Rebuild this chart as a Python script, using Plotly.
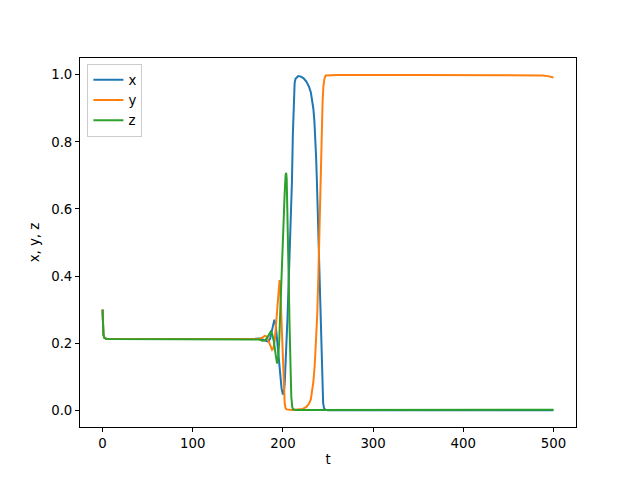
import plotly.graph_objects as go

# ---- data ----
t_x = [0, 0.5, 1, 2, 4, 8, 50, 100, 150, 165, 170, 173, 176, 179, 182, 184, 186, 188, 189.5, 190.5,
       192, 193.5, 195.4, 197, 198.5, 200, 201, 202, 203, 204, 205, 206, 207, 208, 209, 210, 211, 212,
       213, 214, 215.5, 217, 220, 223, 226, 229, 231, 232.5, 233.8, 234.9, 235.9, 236.8, 237.6, 238.5,
       239.3, 240.3, 241.2, 242, 243, 243.8, 244.6, 245.6, 247, 250, 300, 400, 500]
x_vals = [0.300, 0.240, 0.225, 0.216, 0.2132, 0.2122, 0.2120, 0.2120, 0.2120, 0.2122, 0.2128, 0.2140,
          0.2130, 0.2090, 0.2045, 0.2040, 0.2150, 0.2450, 0.2650, 0.2700,
          0.2550, 0.2100, 0.1490, 0.1000, 0.0650, 0.0470, 0.0520, 0.0800, 0.1300, 0.1950, 0.2700,
          0.3500, 0.4300, 0.5100, 0.5900, 0.6800, 0.8200, 0.9300,
          0.9750, 0.9880, 0.9940, 0.9960, 0.9945, 0.9895, 0.9800, 0.9640, 0.9470, 0.9250, 0.8980,
          0.8620, 0.8150, 0.7550, 0.6900, 0.6050,
          0.5150, 0.4000, 0.2950, 0.2050, 0.1100, 0.0550, 0.0220, 0.0060, 0.0010, 0.0003, 0.0, 0.0, 0.0]

t_y = [0, 0.5, 1, 2, 4, 8, 50, 100, 150, 165, 170, 174, 177, 180, 182, 184, 186, 188, 189.5, 191,
       192.5, 194, 195, 196.3, 197, 198, 199, 200, 201, 202, 203, 204, 210, 218, 222, 226, 229, 231,
       232.5, 233.8, 235.3, 236.8, 238, 239.3, 240.2, 241.2, 242.1, 243, 244, 244.9, 246, 247.5, 260,
       350, 480, 488, 494, 500]
y_vals = [0.300, 0.240, 0.225, 0.216, 0.2132, 0.2122, 0.2120, 0.2120, 0.2120, 0.2122, 0.2130, 0.2125,
          0.2160, 0.2220, 0.2200, 0.2050, 0.1900, 0.1800, 0.1850, 0.2100,
          0.2600, 0.3200, 0.3600, 0.3880, 0.3700, 0.3000, 0.2200, 0.1400, 0.0600, 0.0200, 0.0060,
          0.0025, 0.0010, 0.0020, 0.0040, 0.0100, 0.0200, 0.0330,
          0.0550, 0.0850, 0.1350, 0.2000, 0.2800, 0.4000, 0.5200, 0.6470, 0.7500, 0.8460, 0.9200,
          0.9650, 0.9880, 0.9980, 0.9990,
          0.9990, 0.9990, 0.9980, 0.9960, 0.9920]

t_z = [0, 0.5, 1, 2, 4, 8, 50, 100, 150, 165, 170, 174, 177, 180, 183, 185, 186.5, 188, 190, 192,
       193.5, 194.5, 196, 197, 198, 199, 200, 201, 202, 203, 203.6, 204.2, 204.9, 205.7, 206.5,
       207.3, 208.3, 209.3, 210.3, 211.5, 215, 300, 400, 500]
z_vals = [0.300, 0.240, 0.225, 0.216, 0.2132, 0.2122, 0.2120, 0.2120, 0.2120, 0.2120, 0.2118, 0.2105,
          0.2070, 0.2080, 0.2180, 0.2300, 0.2340, 0.2280, 0.2050, 0.1650,
          0.1400, 0.1450, 0.2100, 0.2900, 0.3700, 0.4500, 0.5200, 0.5900, 0.6500, 0.7000, 0.7080,
          0.6900, 0.6200, 0.5000, 0.3800,
          0.2600, 0.1200, 0.0400, 0.0100, 0.0020, 0.0008, 0.0005, 0.0008, 0.0015]

series_names = ["x", "y", "z"]
colors = ["#1f77b4", "#ff7f0e", "#2ca02c"]

x_ticks = [0, 100, 200, 300, 400, 500]
y_ticks = [0.0, 0.2, 0.4, 0.6, 0.8, 1.0]

FONT = dict(family="DejaVu Sans", size=13.3, color="black")

fig = go.Figure()
for name, tt, vv, c in zip(series_names, [t_x, t_y, t_z], [x_vals, y_vals, z_vals], colors):
    fig.add_trace(go.Scatter(x=tt, y=vv, mode="lines", name=name,
                             line=dict(color=c, width=2)))

axis_common = dict(showline=True, linecolor="black", linewidth=1, mirror=True,
                   ticks="outside", ticklen=4, tickwidth=1, tickcolor="black",
                   showgrid=False, zeroline=False, automargin=False,
                   tickfont=FONT)

# the page body adds an 8px offset, so margins are reduced by 8 on left/top
fig.update_layout(
    width=640, height=480,
    margin=dict(l=72, r=72, t=50, b=61, autoexpand=False),
    paper_bgcolor="white", plot_bgcolor="white",
    font=FONT,
    xaxis=dict(range=[-25, 525], tickvals=x_ticks, ticktext=[str(v) for v in x_ticks],
               title=dict(text="t", standoff=4, font=FONT), **axis_common),
    yaxis=dict(range=[-0.05, 1.05], tickvals=y_ticks, ticktext=[f"{v:.1f}" for v in y_ticks],
               title=dict(text="x, y, z", standoff=8, font=FONT), **axis_common),
    legend=dict(x=0.015, y=0.985, xanchor="left", yanchor="top",
                bgcolor="rgba(255,255,255,0.8)", bordercolor="#cccccc", borderwidth=1,
                font=FONT, itemwidth=30, tracegroupgap=0),
    showlegend=True,
)

fig.write_html("out.html")
